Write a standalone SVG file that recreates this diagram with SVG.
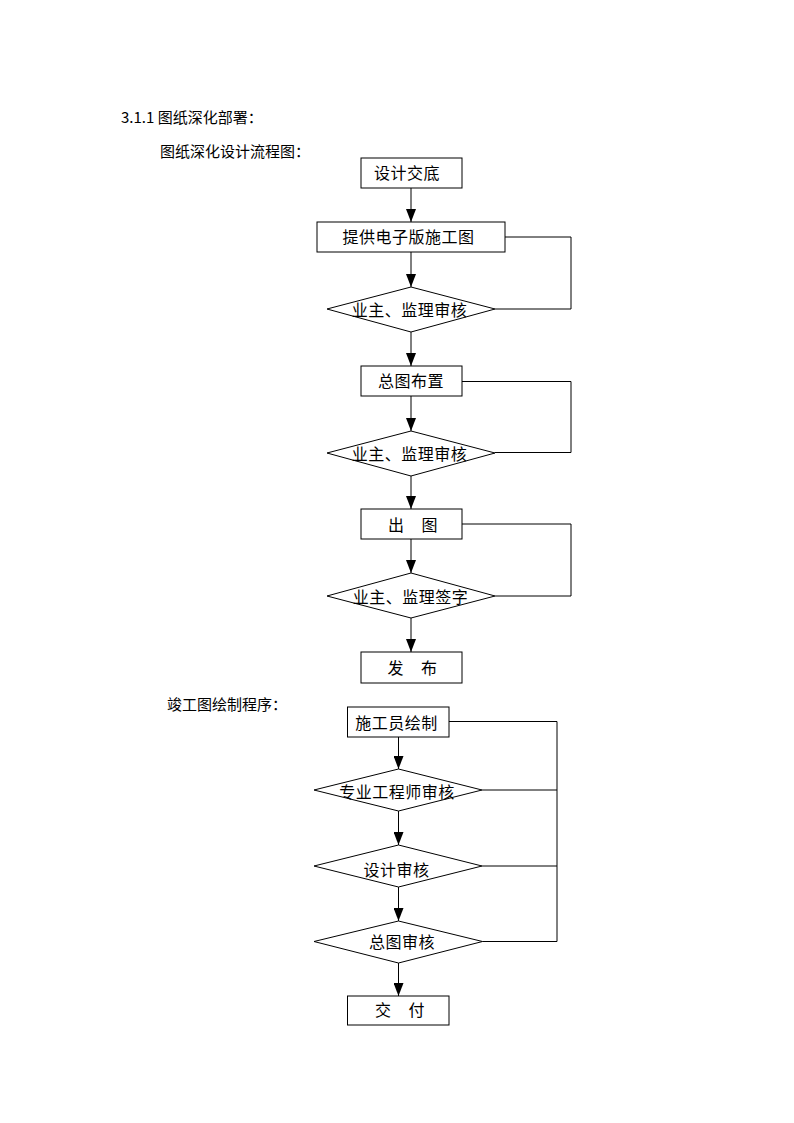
<svg xmlns="http://www.w3.org/2000/svg" width="794" height="1123" viewBox="0 0 794 1123">
<style>
.bg{fill:#fff}
.n{fill:#fff;stroke:#000;stroke-width:1}
.c{fill:none;stroke:#000;stroke-width:1}
.h{font-family:"Noto Sans CJK SC","Liberation Sans",sans-serif;font-size:15px;fill:#000}
.t{font-family:"Noto Sans CJK SC","Liberation Sans",sans-serif;font-size:16px;fill:#000;text-anchor:middle;letter-spacing:0.5px}
.sp{word-spacing:13px}
</style>
<defs>
<marker id="ah" viewBox="0 0 13 10" refX="13" refY="5" markerWidth="13" markerHeight="10" markerUnits="userSpaceOnUse" orient="auto">
<path d="M0,0 L13,5 L0,10 Z" fill="#000"/>
</marker>
</defs>
<rect class="bg" x="0" y="0" width="794" height="1123"/>
<text class="h" x="121" y="123">3.1.1 图纸深化部署：</text>
<text class="h" x="160" y="157">图纸深化设计流程图：</text>
<text class="h" x="167" y="710">竣工图绘制程序：</text>

<g id="nodes-bg"></g>

<g id="n1"><rect class="n" x="361" y="158" width="101" height="30"/><text class="t" x="407" y="179">设计交底</text></g>
<g id="n2"><rect class="n" x="317" y="222" width="188" height="30"/><text class="t" x="408.5" y="243">提供电子版施工图</text></g>
<g id="n3"><polygon class="n" points="411,287 495,309 411,332 327,309"/><text class="t" x="409.5" y="316">业主、监理审核</text></g>
<g id="n4"><rect class="n" x="361" y="366" width="101" height="30"/><text class="t" x="411" y="387">总图布置</text></g>
<g id="n5"><polygon class="n" points="411,431 495,453 411,476 327,453"/><text class="t" x="409.5" y="460">业主、监理审核</text></g>
<g id="n6"><rect class="n" x="361" y="509" width="101" height="30"/><text class="t sp" x="413" y="531">出 图</text></g>
<g id="n7"><polygon class="n" points="411,573 495,596 411,618 327,596"/><text class="t" x="410.5" y="603">业主、监理签字</text></g>
<g id="n8"><rect class="n" x="361" y="652" width="101" height="31"/><text class="t sp" x="412.5" y="674">发 布</text></g>

<g id="m1"><rect class="n" x="347.5" y="707" width="101.5" height="30"/><text class="t" x="396.5" y="729">施工员绘制</text></g>
<g id="m2"><polygon class="n" points="398.5,769 482,790 398.5,811 314,790"/><text class="t" x="397" y="798">专业工程师审核</text></g>
<g id="m3"><polygon class="n" points="398.5,845 482,866 398.5,887 314,866"/><text class="t" x="396.5" y="876">设计审核</text></g>
<g id="m4"><polygon class="n" points="398.5,921 482.5,941.5 398.5,963 314,941.5"/><text class="t" x="402" y="948">总图审核</text></g>
<g id="m5"><rect class="n" x="347.5" y="996" width="101.5" height="29"/><text class="t sp" x="400" y="1016">交 付</text></g>

<g id="connectors">
<path class="c" d="M411,188 V222" marker-end="url(#ah)"/>
<path class="c" d="M411,252 V287" marker-end="url(#ah)"/>
<path class="c" d="M411,332 V366" marker-end="url(#ah)"/>
<path class="c" d="M411,396 V431" marker-end="url(#ah)"/>
<path class="c" d="M411,476 V509" marker-end="url(#ah)"/>
<path class="c" d="M411,539 V573" marker-end="url(#ah)"/>
<path class="c" d="M411,618 V652" marker-end="url(#ah)"/>
<path class="c" d="M505,237 H571 V309 H495"/>
<path class="c" d="M462,381.5 H571 V452.5 H495"/>
<path class="c" d="M462,524 H571 V596 H495"/>
<path class="c" d="M398.5,737 V769" marker-end="url(#ah)"/>
<path class="c" d="M398.5,811 V845" marker-end="url(#ah)"/>
<path class="c" d="M398.5,887 V921" marker-end="url(#ah)"/>
<path class="c" d="M398.5,963 V996" marker-end="url(#ah)"/>
<path class="c" d="M449,721.5 H557 V941.5 H482.5"/>
<path class="c" d="M482,790 H557"/>
<path class="c" d="M482,866 H557"/>
</g>
</svg>
